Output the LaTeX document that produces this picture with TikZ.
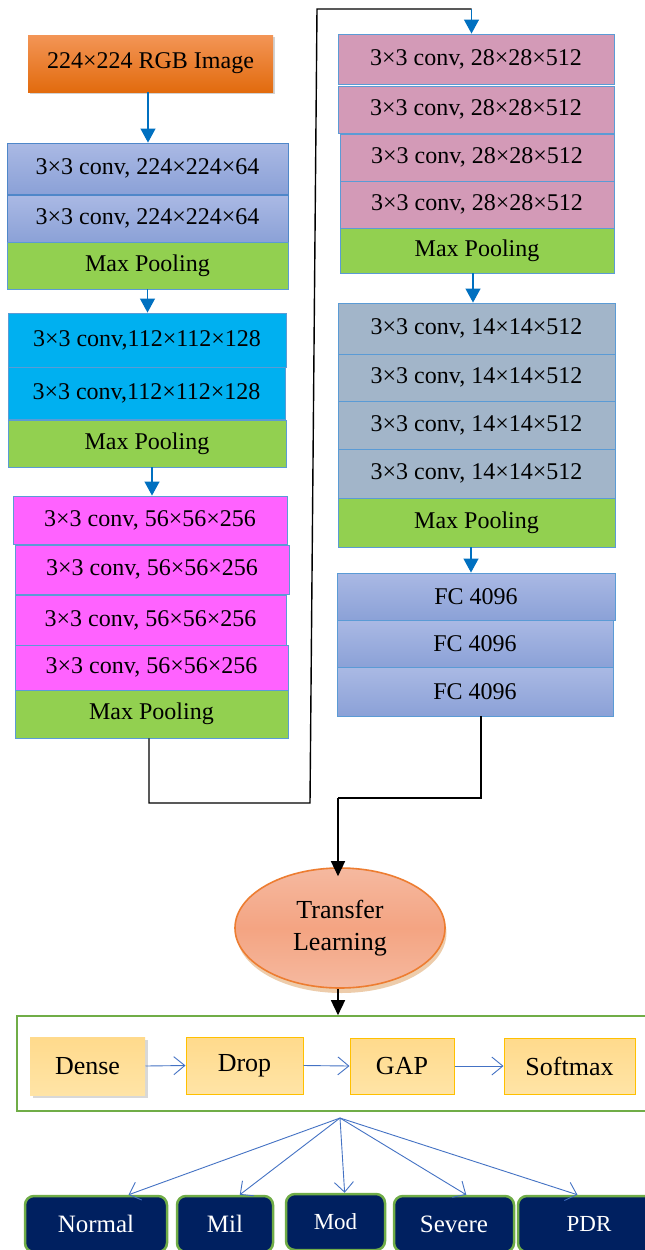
\documentclass[tikz,border=0pt]{standalone}
\usepackage{fontspec}
\setmainfont{Liberation Serif}
\usetikzlibrary{arrows.meta,shapes.geometric,shadows,calc}
\definecolor{orTop}{HTML}{F39556}
\definecolor{orBot}{HTML}{E26B0E}
\definecolor{lavTop}{HTML}{AAB9E4}
\definecolor{lavBot}{HTML}{8BA1D7}
\definecolor{lavLine}{HTML}{4F87C9}
\definecolor{boxLine}{HTML}{5B9BD5}
\definecolor{poolGreen}{HTML}{92D050}
\definecolor{cyanFill}{HTML}{00B0F0}
\definecolor{magFill}{HTML}{FF62FF}
\definecolor{pinkFill}{HTML}{D39AB7}
\definecolor{grayFill}{HTML}{A2B5C9}
\definecolor{arrowBlue}{HTML}{0070C0}
\definecolor{thinBlue}{HTML}{4472C4}
\definecolor{ellLine}{HTML}{ED7D31}
\definecolor{ellTop}{HTML}{F5B9A0}
\definecolor{ellMid}{HTML}{F4A482}
\definecolor{yelTop}{HTML}{FFDA8C}
\definecolor{yelBot}{HTML}{FFE4A6}
\definecolor{yelLine}{HTML}{FFC000}
\definecolor{frameGreen}{HTML}{70AD47}
\definecolor{navyFill}{HTML}{002060}
\begin{document}
\begin{tikzpicture}[x=1pt,y=-1pt,
  box/.style={draw=boxLine, line width=0.9pt, inner sep=0pt, font=\fontsize{24}{27}\selectfont},
  imgbox/.style={box, draw=none, top color=orTop, bottom color=orBot,
     drop shadow={shadow xshift=1.5pt, shadow yshift=-2pt, opacity=0.35}},
  lavbox/.style={box, draw=lavLine, top color=lavTop, bottom color=lavBot},
  cyanbox/.style={box, fill=cyanFill, draw=boxLine},
  magbox/.style={box, fill=magFill, draw=boxLine},
  pinkbox/.style={box, fill=pinkFill, draw=boxLine},
  graybox/.style={box, fill=grayFill, draw=boxLine},
  poolbox/.style={box, fill=poolGreen, draw=boxLine},
  barrow/.style={draw=arrowBlue, line width=1.2pt, -{Triangle[length=14pt,width=15pt]}},
  karrow/.style={draw=black, line width=1.4pt, -{Triangle[length=15pt,width=14pt]}},
  kline/.style={draw=black, line width=1.4pt},
  yelbox/.style={draw=yelLine, line width=1pt, top color=yelTop, bottom color=yelBot,
     inner sep=0pt, minimum height=57pt, font=\fontsize{26}{30}\selectfont},
  flowarrow/.style={draw=thinBlue, line width=0.9pt, -{Straight Barb[length=11pt,width=18pt]}},
  fanarrow/.style={draw=thinBlue, line width=0.9pt, -{Straight Barb[length=10pt,width=19pt]}},
  cls/.style={draw=frameGreen, line width=2.5pt, fill=navyFill, rounded corners=9pt,
     text=white, inner sep=0pt, minimum height=56pt, font=\fontsize{25}{28}\selectfont}
]
\useasboundingbox (0,0) rectangle (645,1250);
\fill[white] (0,0) rectangle (645,1250);

% ---------- left column ----------
\node[imgbox, minimum width=245pt, minimum height=57pt] (img) at (150.5,63.5) {224×224 RGB Image};

\node[lavbox, minimum width=281pt, minimum height=51pt] (c1a) at (147.5,168.5) {3×3 conv, 224×224×64};
\node[lavbox, minimum width=281pt, minimum height=47pt] (c1b) at (147.5,218.5) {3×3 conv, 224×224×64};
\node[poolbox, minimum width=281pt, minimum height=47pt] (mp1) at (147.5,265.5) {Max Pooling};

\node[cyanbox, minimum width=278pt, minimum height=54pt] (c2a) at (147,340) {3×3 conv,112×112×128};
\node[cyanbox, minimum width=277pt, minimum height=52pt] (c2b) at (146.5,393) {3×3 conv,112×112×128};
\node[poolbox, minimum width=278pt, minimum height=47pt] (mp2) at (147,443.5) {Max Pooling};

\node[magbox, minimum width=274pt, minimum height=48pt] (c3a) at (150,520) {3×3 conv, 56×56×256};
\node[magbox, minimum width=274pt, minimum height=49pt] (c3b) at (152,569.5) {3×3 conv, 56×56×256};
\node[magbox, minimum width=271pt, minimum height=50pt] (c3c) at (150.5,620) {3×3 conv, 56×56×256};
\node[magbox, minimum width=273pt, minimum height=45pt] (c3d) at (151.5,667.5) {3×3 conv, 56×56×256};
\node[poolbox, minimum width=273pt, minimum height=48pt] (mp3) at (151.5,714) {Max Pooling};

% ---------- right column ----------
\node[pinkbox, minimum width=276pt, minimum height=50pt] (c4a) at (476,59) {3×3 conv, 28×28×512};
\node[pinkbox, minimum width=276pt, minimum height=47pt] (c4b) at (476,109.5) {3×3 conv, 28×28×512};
\node[pinkbox, minimum width=274pt, minimum height=47pt] (c4c) at (477,157.5) {3×3 conv, 28×28×512};
\node[pinkbox, minimum width=274pt, minimum height=47pt] (c4d) at (477,204.5) {3×3 conv, 28×28×512};
\node[poolbox, minimum width=274pt, minimum height=45pt] (mp4) at (477,250.5) {Max Pooling};

\node[graybox, minimum width=277pt, minimum height=51pt] (c5a) at (476.5,328.5) {3×3 conv, 14×14×512};
\node[graybox, minimum width=277pt, minimum height=47pt] (c5b) at (476.5,377.5) {3×3 conv, 14×14×512};
\node[graybox, minimum width=277pt, minimum height=48pt] (c5c) at (476.5,425) {3×3 conv, 14×14×512};
\node[graybox, minimum width=277pt, minimum height=49pt] (c5d) at (476.5,473.5) {3×3 conv, 14×14×512};
\node[poolbox, minimum width=277pt, minimum height=49pt] (mp5) at (476.5,522.5) {Max Pooling};

\node[lavbox, draw=boxLine, minimum width=278pt, minimum height=47pt] (fc1) at (476,596.5) {FC 4096};
\node[lavbox, draw=boxLine, minimum width=276pt, minimum height=47pt] (fc2) at (475,643.5) {FC 4096};
\node[lavbox, draw=boxLine, minimum width=276pt, minimum height=49pt] (fc3) at (475,691.5) {FC 4096};

% ---------- blue arrows between blocks ----------
\draw[barrow] ([xshift=-2.5pt]img.south) -- ([xshift=-2.5pt]img.south |- c1a.north);
\draw[barrow] (mp1.south) -- (mp1.south |- c2a.north);
\draw[barrow] ([xshift=5pt]mp2.south) -- ([xshift=5pt]mp2.south |- c3a.north);
\draw[barrow] ([xshift=-4pt]mp4.south) -- ([xshift=-4pt]mp4.south |- c5a.north);
\draw[barrow] ([xshift=-5.5pt]mp5.south) -- ([xshift=-5.5pt]mp5.south |- fc1.north);

% ---------- black link from left to right column ----------
\coordinate (k1) at (149,803);
\coordinate (k2) at (310,803);
\coordinate (k3) at (317,9);
\coordinate (k4) at (471.5,9);
\draw[kline] (mp3.south -| k1) -- (k1) -- (k2) -- (k3) -- (k4);
\draw[barrow] (k4) -- (k4 |- c4a.north);

% ---------- transfer learning ----------
\node[ellipse, draw=ellLine, line width=1.6pt, top color=ellTop, bottom color=ellTop,
      middle color=ellMid, minimum width=210pt, minimum height=120pt, inner sep=0pt,
      align=center, font=\fontsize{26}{32}\selectfont,
      drop shadow={shadow xshift=1.5pt, shadow yshift=-5pt, fill=brown!70!orange, opacity=0.4}]
      (tl) at (340,928) {Transfer\\Learning};

\coordinate (m1) at (481,798);
\coordinate (m2) at (338,798);
\draw[kline] ([xshift=6pt]fc3.south) -- (m1) -- (m2);
\draw[karrow] (m2) -- (m2 |- tl.north) -- ++(0,9);

% ---------- head frame ----------
\node[draw=frameGreen, line width=1.6pt, minimum width=643pt, minimum height=95pt, inner sep=0pt]
      (head) at (338.5,1063.5) {};
\draw[karrow] (tl.south -| m2) -- (m2 |- head.north);

\node[yelbox, draw=none, minimum width=115pt, minimum height=58pt,
      drop shadow={shadow xshift=3pt, shadow yshift=-3pt, opacity=0.3}] (dense) at (87.5,1066) {Dense};
\node[yelbox, minimum width=117pt] (drop) at (244.5,1065.5) {Drop};
\node[yelbox, minimum width=104pt, minimum height=56pt] (gap) at (402,1066) {GAP};
\node[yelbox, minimum width=131pt, minimum height=56pt] (soft) at (569.5,1066) {Softmax};

\draw[flowarrow] (dense.east) -- (drop.west);
\draw[flowarrow] (drop.east) -- (gap.west);
\draw[flowarrow] (gap.east) -- (soft.west);

% ---------- classes ----------
\node[cls, minimum width=142pt] (cn) at (96,1224) {Normal};
\node[cls, minimum width=96pt] (cmil) at (225,1224) {Mil};
\node[cls, minimum width=99pt, font=\fontsize{23}{26}\selectfont] (cmod) at (335.5,1222) {Mod};
\node[cls, minimum width=120pt] (csev) at (454,1224) {Severe};
\node[cls, minimum width=142pt, font=\fontsize{23}{26}\selectfont] (cpdr) at (589,1224) {PDR};

\coordinate (fan) at (340,1118);
\draw[fanarrow] (fan) -- ($(cn.north west)!0.725!(cn.north east)$);
\draw[fanarrow] (fan) -- ($(cmil.north west)!0.65!(cmil.north east)$);
\draw[fanarrow] (fan) -- ($(cmod.north west)!0.59!(cmod.north east)$);
\draw[fanarrow] (fan) -- ($(csev.north west)!0.6!(csev.north east)$);
\draw[fanarrow] (fan) -- ($(cpdr.north west)!0.42!(cpdr.north east)$);
\end{tikzpicture}
\end{document}
